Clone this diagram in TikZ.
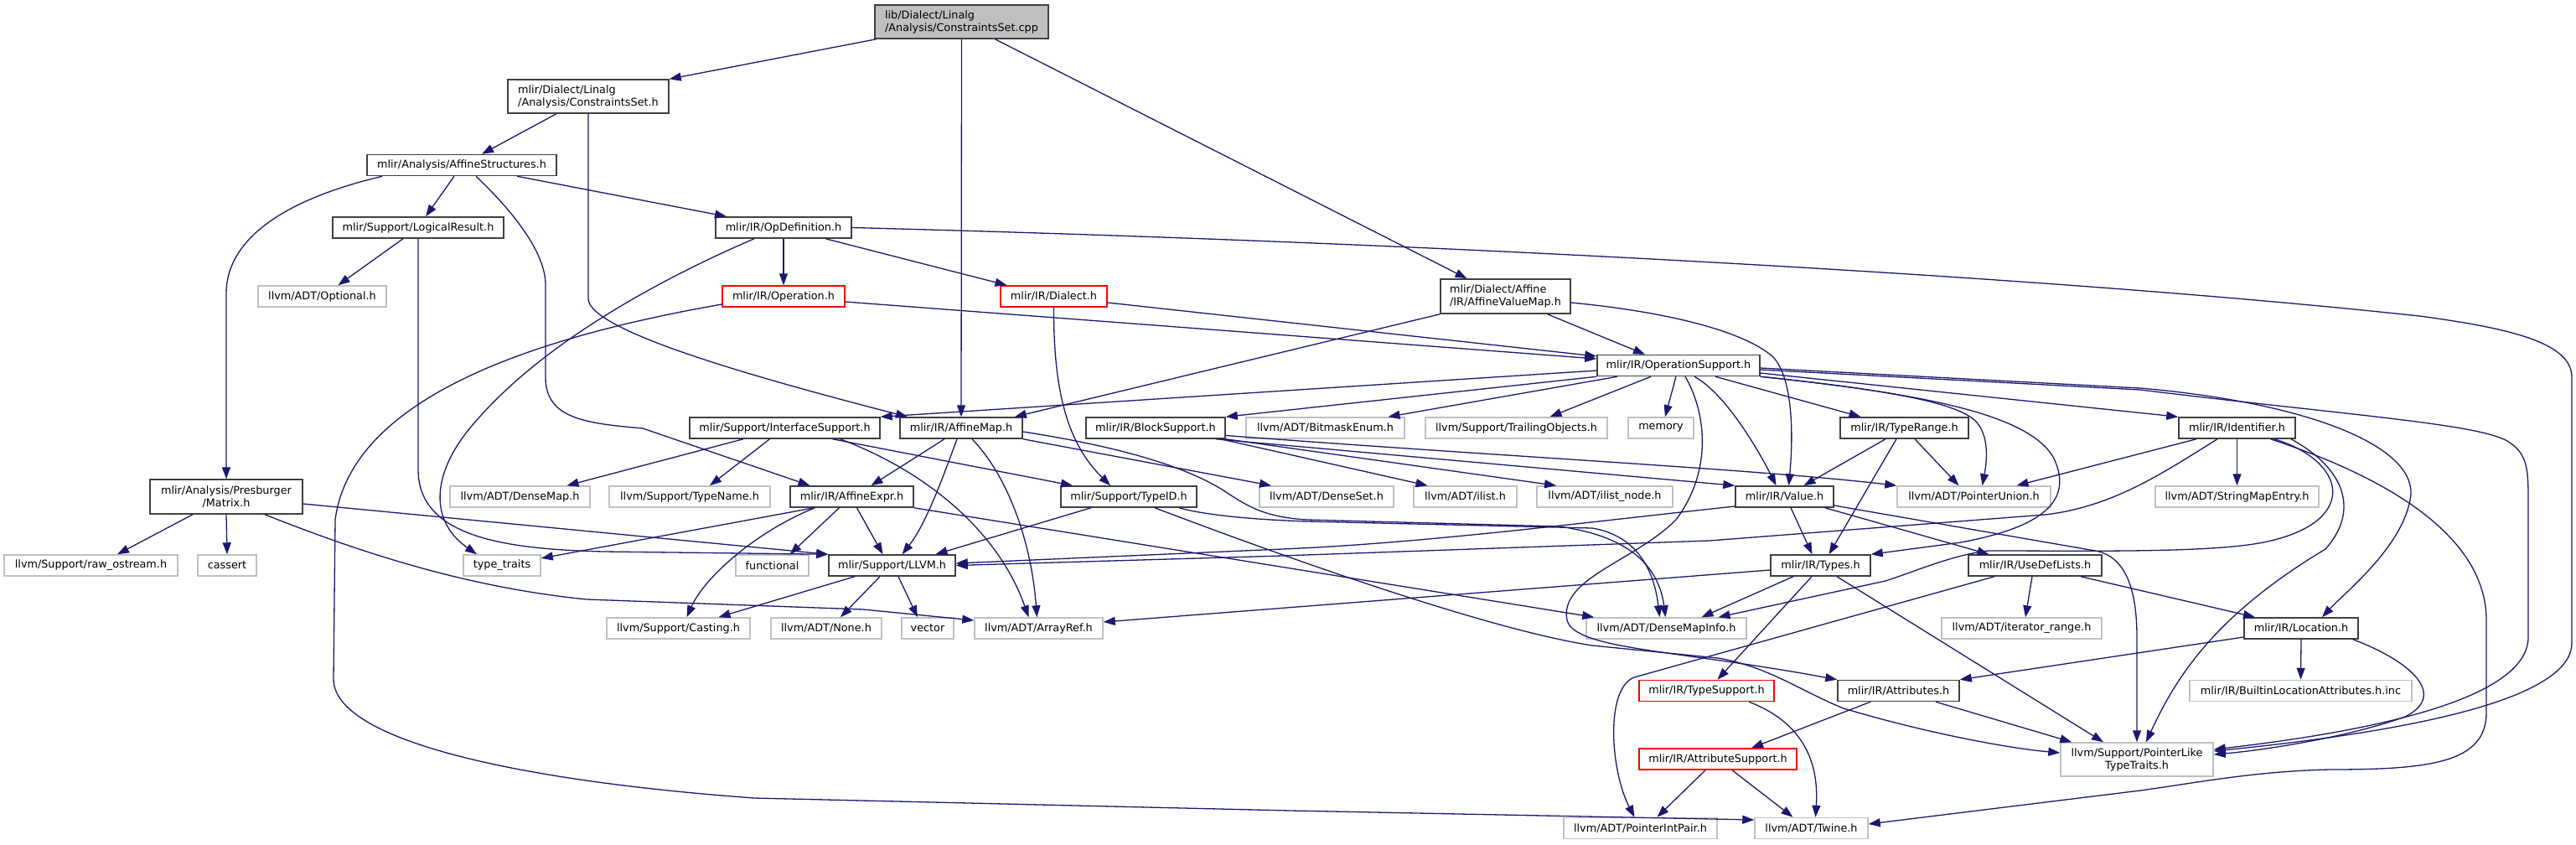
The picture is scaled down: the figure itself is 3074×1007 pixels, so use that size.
\documentclass[tikz,border=0pt]{standalone}
\usepackage{fontspec}
\setmainfont{DejaVu Sans}
\usetikzlibrary{arrows.meta}
\definecolor{edgeblue}{HTML}{191970}
\definecolor{stdborder}{HTML}{404040}
\definecolor{extborder}{HTML}{BFBFBF}
\definecolor{rootfill}{HTML}{BFBFBF}
\begin{document}
\begin{tikzpicture}[x=1pt,y=-1pt,
  box/.style={draw, line width=1.5pt, fill=white, inner sep=0pt, minimum height=25pt, font=\fontsize{12.8}{15}\selectfont, text=black},
  std/.style={box, draw=stdborder},
  ext/.style={box, draw=extborder},
  redbox/.style={box, draw=red},
  rootbox/.style={box, draw=stdborder, fill=rootfill},
  conn/.style={draw=edgeblue, line width=1.3pt, -{Triangle[length=14pt,width=10pt]}}]
\useasboundingbox (0,0) rectangle (3074,1007);
\fill[white] (0,0) rectangle (3074,1007);
% nodes
\node[rootbox, minimum width=207pt, minimum height=40pt, align=left] (root) at (1147.5,26) {lib/Dialect/Linalg\\/Analysis/ConstraintsSet.cpp};
\node[std, minimum width=192pt, minimum height=40pt, align=left] (csh) at (702,115) {mlir/Dialect/Linalg\\/Analysis/ConstraintsSet.h};
\node[std, minimum width=226pt] (affstruct) at (551,197) {mlir/Analysis/AffineStructures.h};
\node[std, minimum width=204pt] (logres) at (499,271.5) {mlir/Support/LogicalResult.h};
\node[std, minimum width=162pt] (opdef) at (935,271.5) {mlir/IR/OpDefinition.h};
\node[ext, minimum width=153pt] (optional) at (384.5,353.5) {llvm/ADT/Optional.h};
\node[redbox, minimum width=146pt] (operation) at (935,353.5) {mlir/IR/Operation.h};
\node[redbox, minimum width=127pt] (dialect) at (1257.5,353.5) {mlir/IR/Dialect.h};
\node[std, minimum width=155pt, minimum height=41pt, align=left] (affvalmap) at (1796.5,353.5) {mlir/Dialect/Affine\\/IR/AffineValueMap.h};
\node[std, minimum width=194pt] (opsupport) at (2003,436) {mlir/IR/OperationSupport.h};
\node[std, minimum width=227pt] (iface) at (936.5,510.5) {mlir/Support/InterfaceSupport.h};
\node[std, minimum width=146pt] (affmap) at (1147,510.5) {mlir/IR/AffineMap.h};
\node[std, minimum width=166pt] (blocksup) at (1379,510.5) {mlir/IR/BlockSupport.h};
\node[ext, minimum width=189pt] (bitmask) at (1581.5,510.5) {llvm/ADT/BitmaskEnum.h};
\node[ext, minimum width=217pt] (trailing) at (1809.5,510.5) {llvm/Support/TrailingObjects.h};
\node[ext, minimum width=78pt] (memory) at (1982,510.5) {memory};
\node[std, minimum width=153pt] (typerange) at (2272.5,510.5) {mlir/IR/TypeRange.h};
\node[std, minimum width=139pt] (identifier) at (2669.5,510.5) {mlir/IR/Identifier.h};
\node[std, minimum width=182pt, minimum height=41pt, align=center] (matrix) at (270,592.5) {mlir/Analysis/Presburger\\/Matrix.h};
\node[ext, minimum width=167pt] (densemap) at (620.5,592.5) {llvm/ADT/DenseMap.h};
\node[ext, minimum width=192pt] (typename) at (823,592.5) {llvm/Support/TypeName.h};
\node[std, minimum width=147pt] (affexpr) at (1016.5,592.5) {mlir/IR/AffineExpr.h};
\node[std, minimum width=162pt] (typeid) at (1347,592.5) {mlir/Support/TypeID.h};
\node[ext, minimum width=160pt] (denseset) at (1583,592.5) {llvm/ADT/DenseSet.h};
\node[ext, minimum width=123pt] (ilist) at (1748.5,592.5) {llvm/ADT/ilist.h};
\node[ext, minimum width=162pt] (ilistnode) at (1915,592.5) {llvm/ADT/ilist\_node.h};
\node[std, minimum width=117pt] (value) at (2129.5,592.5) {mlir/IR/Value.h};
\node[ext, minimum width=183pt] (ptrunion) at (2355.5,592.5) {llvm/ADT/PointerUnion.h};
\node[ext, minimum width=195pt] (stringmap) at (2669.5,592.5) {llvm/ADT/StringMapEntry.h};
\node[ext, minimum width=207pt] (rawos) at (108.5,674.5) {llvm/Support/raw\_ostream.h};
\node[ext, minimum width=70pt] (cassert) at (271,674.5) {cassert};
\node[ext, minimum width=92pt] (typetraits) at (599,674.5) {type\_traits};
\node[ext, minimum width=87pt] (functional) at (921.5,674.5) {functional};
\node[std, minimum width=151pt] (llvmh) at (1064.5,674.5) {mlir/Support/LLVM.h};
\node[std, minimum width=119pt] (types) at (2172.5,674.5) {mlir/IR/Types.h};
\node[std, minimum width=159pt] (usedef) at (2428.5,674.5) {mlir/IR/UseDefLists.h};
\node[ext, minimum width=171pt] (casting) at (809.5,749.5) {llvm/Support/Casting.h};
\node[ext, minimum width=132pt] (none) at (986,749.5) {llvm/ADT/None.h};
\node[ext, minimum width=62pt] (vector) at (1107,749.5) {vector};
\node[ext, minimum width=153pt] (arrayref) at (1239.5,749.5) {llvm/ADT/ArrayRef.h};
\node[ext, minimum width=191pt] (dmi) at (1988.5,749.5) {llvm/ADT/DenseMapInfo.h};
\node[ext, minimum width=191pt] (iterrange) at (2412.5,749.5) {llvm/ADT/iterator\_range.h};
\node[std, minimum width=136pt] (location) at (2746,749.5) {mlir/IR/Location.h};
\node[redbox, minimum width=161pt] (typesupport) at (2036.5,824) {mlir/IR/TypeSupport.h};
\node[std, minimum width=145pt] (attributes) at (2265.5,824) {mlir/IR/Attributes.h};
\node[ext, minimum width=265pt] (builtinloc) at (2745.5,824) {mlir/IR/BuiltinLocationAttributes.h.inc};
\node[redbox, minimum width=188pt] (attrsupport) at (2050,905.5) {mlir/IR/AttributeSupport.h};
\node[ext, minimum width=182pt, minimum height=40pt, align=center] (ptrlike) at (2550,906) {llvm/Support/PointerLike\\TypeTraits.h};
\node[ext, minimum width=183pt] (ptrintpair) at (1957.5,988) {llvm/ADT/PointerIntPair.h};
\node[ext, minimum width=135pt] (twine) at (2161.5,988) {llvm/ADT/Twine.h};
% root
\draw[conn] ([xshift=-102pt]root.south) -- (csh.north east);
\draw[conn] (root.south) -- (affmap.north);
\draw[conn] ([xshift=40pt]root.south) -- ([xshift=-46pt]affvalmap.north);
% csh
\draw[conn] ([xshift=-38pt]csh.south) -- ([xshift=24pt]affstruct.north);
\draw[conn] (csh.south) -- (702,357) .. controls (705,395) and (900,450) .. ([xshift=-64pt]affmap.north);
% affstruct
\draw[conn] ([xshift=-9pt]affstruct.south) -- ([xshift=9pt]logres.north);
\draw[conn] ([xshift=66pt]affstruct.south) -- ([xshift=-68pt]opdef.north);
\draw[conn] ([xshift=19pt]affstruct.south west) .. controls (330,240) and (270,290) .. (270,350) -- (matrix.north);
\draw[conn] ([xshift=17pt]affstruct.south) .. controls (610,250) and (651,300) .. (651,340) -- (651,450) .. controls (651,500) and (700,505) .. (767,511) -- ([xshift=-50pt]affexpr.north);
% logres
\draw[conn] ([xshift=-18pt]logres.south) -- ([xshift=19pt]optional.north);
\draw[conn] (logres.south) -- (499,560) .. controls (499,640) and (600,655) .. (720,658) -- (llvmh.north west);
% opdef
\draw[conn] (opdef.south) -- (operation.north);
\draw[conn] ([xshift=50pt]opdef.south) -- ([xshift=-56pt]dialect.north);
\draw[conn] ([xshift=-35pt]opdef.south) .. controls (760,345) and (640,420) .. (570,500) .. controls (515,560) and (510,620) .. ([xshift=-30pt]typetraits.north);
\draw[conn] (opdef.east) .. controls (1800,292) and (2500,335) .. (2887,377) .. controls (3000,392) and (3069,410) .. (3069,450) -- (3069,767) .. controls (3069,830) and (2900,870) .. ([yshift=10pt]ptrlike.east);
% operation
\draw[conn] ([yshift=-6.5pt]operation.east) -- ([yshift=8pt]opsupport.west);
\draw[conn] ([yshift=-9.5pt]operation.west) .. controls (650,400) and (420,470) .. (400,620) -- (398,810) .. controls (398,880) and (600,930) .. (900,952) -- (1540,967) -- ([yshift=10pt]twine.west);
% dialect
\draw[conn] ([yshift=-7.5pt]dialect.east) -- ([yshift=11pt]opsupport.west);
\draw[conn] (dialect.south) .. controls (1257,470) and (1275,530) .. ([xshift=-22pt]typeid.north);
% affvalmap
\draw[conn] ([xshift=50pt]affvalmap.south) -- ([xshift=-40pt]opsupport.north);
\draw[conn] (affvalmap.south west) -- ([xshift=-10pt]affmap.north east);
\draw[conn] ([yshift=-7.5pt]affvalmap.east) .. controls (1990,372) and (2080,395) .. (2115,425) .. controls (2140,450) and (2140,520) .. ([xshift=5pt]value.north);
% opsupport
\draw[conn] ([yshift=-6pt]opsupport.west) -- (iface.north east);
\draw[conn] (opsupport.south west) -- (blocksup.north east);
\draw[conn] ([xshift=-73pt]opsupport.south) -- ([xshift=75pt]bitmask.north);
\draw[conn] ([xshift=-33pt]opsupport.south) -- ([xshift=40pt]trailing.north);
\draw[conn] ([xshift=-3pt]opsupport.south) -- ([xshift=5pt]memory.north);
\draw[conn] ([xshift=44pt]opsupport.south) -- ([xshift=-52pt]typerange.north);
\draw[conn] ([xshift=19pt]opsupport.south) .. controls (2060,470) and (2100,540) .. ([xshift=-10pt]value.north);
\draw[conn] ([yshift=-9pt]opsupport.east) -- (identifier.north west);
\draw[conn] (opsupport.south east) .. controls (2250,465) and (2340,480) .. (2360,505) .. controls (2375,525) and (2370,555) .. ([xshift=10pt]ptrunion.north);
\draw[conn] (opsupport.south east) .. controls (2300,470) and (2420,495) .. (2450,545) .. controls (2480,605) and (2420,632) .. (2340,647) -- (types.north east);
\draw[conn] ([yshift=-3pt]opsupport.east) -- (2554,463) .. controls (2750,480) and (2880,530) .. (2877,590) .. controls (2870,650) and (2800,705) .. ([xshift=25pt]location.north);
\draw[conn] ([yshift=-5pt]opsupport.east) -- (2554,465) .. controls (2800,495) and (2950,505) .. (2990,525) .. controls (3017,540) and (3017,560) .. (3017,600) -- (3017,760) .. controls (3017,830) and (2850,870) .. ([yshift=12pt]ptrlike.east);
\draw[conn] ([xshift=8pt]opsupport.south) .. controls (2035,490) and (2045,560) .. (2000,620) .. controls (1950,670) and (1860,690) .. (1870,740) .. controls (1880,775) and (2000,775) .. (attributes.north west);
% iface
\draw[conn] ([xshift=-49.5pt]iface.south) -- ([xshift=56pt]densemap.north);
\draw[conn] ([xshift=-18pt]iface.south) -- ([xshift=24pt]typename.north);
\draw[conn] ([xshift=57pt]iface.south) -- ([xshift=-67pt]typeid.north);
\draw[conn] ([xshift=66pt]iface.south) .. controls (1100,560) and (1190,630) .. ([xshift=-12pt]arrayref.north);
% affmap
\draw[conn] ([xshift=-20pt]affmap.south) -- ([xshift=23pt]affexpr.north);
\draw[conn] ([xshift=-5pt]affmap.south) .. controls (1125,570) and (1105,625) .. ([xshift=12pt]llvmh.north);
\draw[conn] ([xshift=13pt]affmap.south) .. controls (1200,565) and (1230,640) .. ([xshift=-2pt]arrayref.north);
\draw[conn] (affmap.south east) -- ([xshift=-66pt]denseset.north);
\draw[conn] ([yshift=-4.5pt]affmap.east) .. controls (1350,535) and (1420,560) .. (1460,585) .. controls (1490,605) and (1510,617) .. (1560,620) -- (1860,628) .. controls (1950,640) and (1980,680) .. ([xshift=-1pt]dmi.north);
% blocksup
\draw[conn] ([xshift=-12pt]blocksup.south east) -- (value.north west);
\draw[conn] ([yshift=-9pt]blocksup.east) .. controls (1800,545) and (2100,560) .. (ptrunion.north west);
\draw[conn] ([xshift=-6pt]blocksup.south east) -- ([xshift=-45pt]ilist.north);
\draw[conn] (blocksup.south east) -- ([xshift=-58pt]ilistnode.north);
% affexpr
\draw[conn] ([xshift=6pt]affexpr.south) -- ([xshift=-11pt]llvmh.north);
\draw[conn] ([xshift=-15pt]affexpr.south) -- ([xshift=21pt]functional.north);
\draw[conn] ([xshift=-45pt]affexpr.south) -- ([yshift=8.5pt]typetraits.east);
\draw[conn] ([xshift=-44pt]affexpr.south) .. controls (900,635) and (840,690) .. ([xshift=10pt]casting.north);
\draw[conn] (affexpr.south east) -- ([xshift=10pt]dmi.north west);
% typeid
\draw[conn] ([xshift=-45pt]typeid.south) -- ([xshift=52pt]llvmh.north);
\draw[conn] ([xshift=60pt]typeid.south) .. controls (1440,615) and (1500,620) .. (1560,622) -- (1900,630) .. controls (1960,640) and (1975,690) .. ([xshift=-8pt]dmi.north);
\draw[conn] ([xshift=31pt]typeid.south) .. controls (1600,690) and (1800,755) .. (1900,770) -- (2050,785) .. controls (2110,795) and (2150,825) .. (2200,845) .. controls (2300,875) and (2400,893) .. ([yshift=8pt]ptrlike.west);
% llvmh
\draw[conn] ([xshift=-44.5pt]llvmh.south) -- ([xshift=48pt]casting.north);
\draw[conn] ([xshift=-14.5pt]llvmh.south) -- ([xshift=17pt]none.north);
\draw[conn] ([xshift=7.5pt]llvmh.south) -- ([xshift=-12pt]vector.north);
% matrix
\draw[conn] ([xshift=-40pt]matrix.south) -- ([xshift=31.5pt]rawos.north);
\draw[conn] (matrix.south) -- (cassert.north);
\draw[conn] ([yshift=-8.5pt]matrix.east) -- (llvmh.north west);
\draw[conn] ([xshift=46pt]matrix.south) .. controls (420,655) and (550,700) .. (700,715) -- (1030,727) -- ([yshift=9.5pt]arrayref.west);
% value
\draw[conn] ([yshift=-11.5pt]value.west) .. controls (1900,622) and (1700,648) .. (1530,655) -- ([yshift=2.5pt]llvmh.east);
\draw[conn] ([xshift=7.5pt]value.south) -- ([xshift=-10pt]types.north);
\draw[conn] ([xshift=-11pt]value.south east) -- ([xshift=-55pt]usedef.north);
\draw[conn] ([yshift=-10.5pt]value.east) -- (2500,657) .. controls (2535,663) and (2550,700) .. (2550,760) -- (ptrlike.north);
% typerange
\draw[conn] ([xshift=-22.5pt]typerange.south) -- ([xshift=23pt]value.north);
\draw[conn] ([xshift=-9.5pt]typerange.south) -- ([xshift=10pt]types.north);
\draw[conn] ([xshift=12.5pt]typerange.south) -- ([xshift=-18pt]ptrunion.north);
% identifier
\draw[conn] ([xshift=-48.5pt]identifier.south) -- ([xshift=51pt]ptrunion.north);
\draw[conn] ([xshift=-23.5pt]identifier.south) .. controls (2580,565) and (2520,605) .. (2440,614) -- (2040,645) -- (1530,663) -- (llvmh.east);
\draw[conn] (identifier.south) -- (stringmap.north);
\draw[conn] ([xshift=44.5pt]identifier.south) .. controls (2800,550) and (2815,620) .. (2710,645) .. controls (2650,660) and (2500,657) .. (2373,657) .. controls (2330,662) and (2290,680) .. (2250,693) -- ([xshift=62pt]dmi.north);
\draw[conn] ([xshift=64.5pt]identifier.south) .. controls (2800,560) and (2815,610) .. (2775,655) .. controls (2650,730) and (2600,800) .. ([xshift=11pt]ptrlike.north);
\draw[conn] ([xshift=40pt]identifier.south) .. controls (2850,570) and (2967,640) .. (2967,740) -- (2967,850) .. controls (2967,910) and (2900,918) .. (2780,918) .. controls (2690,920) and (2620,934) .. (2554,943) -- ([yshift=5pt]twine.east);
% types
\draw[conn] ([xshift=-32.5pt]types.south) -- ([xshift=42pt]dmi.north);
\draw[conn] ([yshift=-5.5pt]types.west) -- ([yshift=7.5pt]arrayref.east);
\draw[conn] ([xshift=-10.5pt]types.south) -- ([xshift=13pt]typesupport.north);
\draw[conn] ([xshift=19.5pt]types.south) -- ([xshift=-40pt]ptrlike.north);
% usedef
\draw[conn] ([xshift=-3.5pt]usedef.south) -- ([xshift=4.5pt]iterrange.north);
\draw[conn] ([xshift=54.5pt]usedef.south) -- ([xshift=-55pt]location.north);
\draw[conn] ([xshift=-48.5pt]usedef.south) -- (1950,808) .. controls (1915,822) and (1922,920) .. ([xshift=-7pt]ptrintpair.north);
% location
\draw[conn] ([yshift=-10.5pt]location.west) -- (attributes.north east);
\draw[conn] (location.south) -- (builtinloc.north);
\draw[conn] ([xshift=-7pt]location.south east) .. controls (2880,790) and (2920,830) .. (2870,855) .. controls (2800,880) and (2700,895) .. ([yshift=6pt]ptrlike.east);
% attributes
\draw[conn] ([xshift=-33.5pt]attributes.south) -- ([xshift=40pt]attrsupport.north);
\draw[conn] ([xshift=44.5pt]attributes.south) -- ([xshift=14pt]ptrlike.north west);
% typesupport
\draw[conn] ([xshift=50.5pt]typesupport.south) .. controls (2160,865) and (2170,920) .. ([xshift=5pt]twine.north);
% attrsupport
\draw[conn] ([xshift=17pt]attrsupport.south) -- ([xshift=-22pt]twine.north);
\draw[conn] ([xshift=-15pt]attrsupport.south) -- ([xshift=20pt]ptrintpair.north);
\end{tikzpicture}
\end{document}
